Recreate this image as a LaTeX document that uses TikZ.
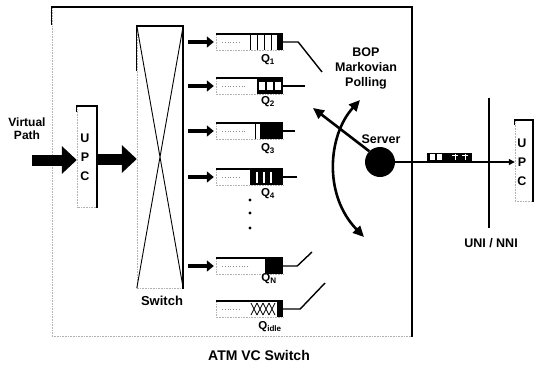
\documentclass[tikz,border=0pt]{standalone}
\usepackage{fontspec}
\setmainfont{Liberation Sans}
\usetikzlibrary{arrows.meta,calc}
\newcommand\qframe[1]{%
  \draw[faint] (#1.north west) -- (#1.south west) -- (#1.south east);
  \draw[line width=2pt] (#1.north west) -- (#1.north east);}
\begin{document}
\begin{tikzpicture}[x=1pt,y=-1pt,
  lbl/.style={font=\bfseries\fontsize{12.5}{14}\selectfont, inner sep=0pt},
  faint/.style={draw=black!30, line width=0.6pt, densely dotted},
  heavy/.style={line width=2.4pt, line cap=rect},
  qbox/.style={minimum width=67pt, minimum height=16pt, inner sep=0pt},
  qarrow/.style={line width=4pt, -{Triangle[length=7pt,width=11pt]}},
  bigarrow/.style={line width=11pt, -{Triangle[length=15pt,width=27pt]}},
  pollhead/.style={line width=2.6pt},
  qline/.style={line width=1.4pt},
  qlabel/.style={font=\bfseries\fontsize{11.5}{13}\selectfont, inner sep=0pt},
  specks/.style={draw=black!45, dotted, line width=0.8pt}
]
\useasboundingbox (0,0) rectangle (535,367);

% main ATM VC switch panel
\node[minimum width=360pt, minimum height=329pt, inner sep=0pt] (atm) at (232,171.5) {};
\draw[faint] (atm.north west) -- (atm.south west) -- (atm.south east);
\draw[line width=0.8pt] (atm.north west) -- ([yshift=-18pt]atm.north west);
\draw[heavy] (atm.north west) -- (atm.north east) -- (atm.south east);
\node[font=\bfseries\fontsize{14}{16}\selectfont, inner sep=0pt] (atml) at (259,355) {ATM VC Switch};

% switch
\node[minimum width=46pt, minimum height=262pt, inner sep=0pt] (sw) at (160,157) {};
\draw[faint] (sw.north west) -- (sw.south west) -- (sw.south east);
\draw[line width=0.8pt] (sw.north west) -- ([yshift=-45pt]sw.north west);
\draw[heavy] (sw.north west) -- (sw.north east) -- (sw.south east);
\draw[line width=0.9pt] (sw.north west) -- (sw.south east) (sw.north east) -- (sw.south west);
\node[lbl, font=\bfseries\fontsize{13}{15}\selectfont] (swl) at (162,301) {Switch};

% left UPC
\node[minimum width=20pt, minimum height=101pt, inner sep=0pt] (upcL) at (87,156.5) {};
\draw[faint] (upcL.north west) -- (upcL.south west) -- (upcL.south east);
\draw[line width=0.8pt] (upcL.north west) -- ([yshift=-6pt]upcL.north west);
\draw[heavy] (upcL.north west) -- (upcL.north east) -- (upcL.south east);
\node[lbl] (uL) at (85,138) {U};
\node[lbl] (pL) at (85,157) {P};
\node[lbl] (cL) at (85,176) {C};

% right UPC
\node[minimum width=18pt, minimum height=81pt, inner sep=0pt] (upcR) at (524,160.5) {};
\draw[faint] (upcR.north west) -- (upcR.south west) -- (upcR.south east);
\draw[line width=0.8pt] (upcR.north west) -- ([yshift=-5pt]upcR.north west);
\draw[heavy] (upcR.north west) -- (upcR.north east) -- (upcR.south east);
\node[lbl] (uR) at (522,143) {U};
\node[lbl] (pR) at (522,162) {P};
\node[lbl] (cR) at (522,181) {C};

% virtual path and big arrows
\node[lbl, font=\bfseries\fontsize{12}{13}\selectfont, align=center] (vpl) at (27,129) {Virtual\\Path};
\coordinate (vp) at (32,160);
\coordinate (ay) at (0,159);
\draw[bigarrow] (vp) -- (upcL.west |- vp);
\draw[bigarrow] ($(upcL.east |- ay)+(1,0)$) -- (sw.west |- ay);

% queues
\node[qbox] (q1) at (249.5,42) {};
\node[qbox] (q2) at (249.5,86) {};
\node[qbox] (q3) at (249.5,131) {};
\node[qbox] (q4) at (249.5,177) {};
\node[qbox] (qn) at (249.5,266) {};
\node[qbox] (qi) at (249.5,309) {};
\qframe{q1}\qframe{q2}\qframe{q3}\qframe{q4}\qframe{qn}\qframe{qi}

% queue contents
\draw[specks] (222,42) -- (240,42);
\foreach \x in {250,257,264,271} \draw[line width=1pt] (\x,34) -- (\x,50);
\fill (277,34) rectangle (283,50);

\draw[specks] (222,86) -- (246,86);
\fill (257,78) rectangle (283,94);
\foreach \x in {259,267,275} \fill[white] (\x,82) rectangle ++(6,8);

\draw[specks] (222,131) -- (246,131);
\draw[line width=1pt] (255,123) -- (255,139);
\fill (260,123) rectangle (283,139);

\draw[specks] (222,177) -- (240,177);
\fill (250,169) rectangle (283,185);
\foreach \x in {257,264,271} \draw[white, line width=1.6pt] (\x,172) -- (\x,183);

\draw[specks] (222,266) -- (250,266);
\fill (265,258) rectangle (283,274);

\draw[specks] (222,309) -- (240,309);
\foreach \x in {251,257,263,269} \draw[line width=0.7pt] (\x,303) -- ++(6,12) (\x,315) -- ++(6,-12);
\fill (277,301) rectangle (283,317);

\foreach \y in {200,213,228} \fill (250,\y) circle (1.6);

% arrows into queues
\foreach \q in {q1,q2,q3,q4,qn}
  \draw[qarrow] ($(sw.east |- \q)+(5,0)$) -- ($(\q.west)+(-2,0)$);

% queue labels
\node[qlabel] (l1) at (268,60) {Q\textsubscript{1}};
\node[qlabel] (l2) at (268,102) {Q\textsubscript{2}};
\node[qlabel] (l3) at (268,149) {Q\textsubscript{3}};
\node[qlabel] (l4) at (268,194) {Q\textsubscript{4}};
\node[qlabel] (ln) at (269,279) {Q\textsubscript{N}};
\node[qlabel] (li) at (270,327) {Q\textsubscript{idle}};

% queue output lines
\coordinate (e1) at (322,72);
\coordinate (e2) at (305,86);
\coordinate (e3) at (295,131);
\coordinate (e4) at (297,177);
\coordinate (en) at (312,252);
\coordinate (ei) at (325,283);
\draw[qline] (q1.east) -- ++(15,0) -- (e1);
\draw[qline] (q2.east) -- (e2);
\draw[qline] (q3.east) -- (e3);
\draw[qline] (q4.east) -- (e4);
\draw[qline] (qn.east) -- ++(14,0) -- (en);
\draw[qline] (qi.east) -- ++(17,0) -- (ei);

% polling label
\node[font=\bfseries\fontsize{12.5}{15}\selectfont, align=center, inner sep=0pt] (bop) at (366,68) {BOP\\Markovian\\Polling};

% server
\node[circle, fill=black, minimum size=30pt, inner sep=0pt] (srv) at (380,162) {};
\node[lbl] (srvl) at (381,139) {Server};

% polling arrows
\coordinate (pa) at (313,108);
\coordinate (pb1) at (360,100);
\coordinate (pb2) at (364,237);
\draw[pollhead, -{Triangle[length=11pt,width=10pt]}] (srv.135) -- (pa);
\draw[pollhead, {Triangle[length=11pt,width=10pt]}-{Triangle[length=11pt,width=10pt]}]
  (pb1) .. controls (328,135) and (323,195) .. (pb2);

% output line and cell
\draw[line width=1.2pt, -{Triangle[length=6pt,width=6pt]}] (srv.east) -- (upcR.west |- srv);
\node[fill=black, minimum width=45pt, minimum height=9pt, inner sep=0pt] (pkt) at (449,157) {};
\fill[white] (430,154) rectangle (435,160);
\fill[white] (437,154) rectangle (442,160);
\draw[white, line width=0.8pt] (455,153.5) -- (455,160) (452,155) -- (458,155)
  (465,153.5) -- (465,160) (462,155) -- (468,155);

% UNI / NNI
\coordinate (n1) at (489,98);
\coordinate (n2) at (489,228);
\draw[line width=2.6pt] (n1) -- (n2);
\node[lbl] (uni) at (491,243) {UNI / NNI};
\end{tikzpicture}
\end{document}
